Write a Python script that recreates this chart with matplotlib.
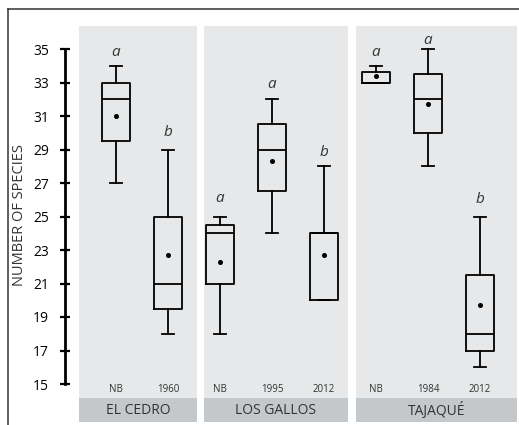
import matplotlib
matplotlib.use("Agg")
import matplotlib.pyplot as plt
from matplotlib.patches import Rectangle

plt.rcParams['font.family'] = ['Open Sans', 'DejaVu Sans']

# ------ data
sites = ["EL CEDRO", "LOS GALLOS", "TAJAQUÉ"]
groups = [["NB", "1960"], ["NB", "1995", "2012"], ["NB", "1984", "2012"]]

whis_lo = [27, 18, 18, 24, 20, 33, 28, 16]
q1 = [29.5, 19.5, 21, 26.5, 20, 33, 30, 17]
median = [32, 21, 24, 29, 24, 33, 32, 18]
q3 = [33, 25, 24.5, 30.5, 24, 33.6, 33.5, 21.5]
whis_hi = [34, 29, 25, 32, 28, 34, 35, 25]
means = [31, 22.7, 22.3, 28.3, 22.7, 33.4, 31.7, 19.7]

letters = ["a", "b", "a", "a", "b", "a", "a", "b"]
letter_y = [34.8, 30.0, 26.1, 32.9, 28.8, 34.8, 35.5, 26.0]

y_ticks = [15, 17, 19, 21, 23, 25, 27, 29, 31, 33, 35]

# panel extents (in box-index units)
panel_left = [-0.71, 1.69, 4.62]
panel_right = [1.56, 4.46, 7.71]

panel_col = '#e6e8e9'
band_col = '#c5c8ca'
txt_col = '#333333'

W, H = 519, 425
fig = plt.figure(figsize=(W / 100, H / 100), dpi=100)

# outer frame (top + left only)
bg = fig.add_axes([8 / W, 0, 1 - 8 / W, 1 - 9 / H])
bg.set_xticks([])
bg.set_yticks([])
for s in ['right', 'bottom']:
    bg.spines[s].set_visible(False)
for s in ['top', 'left']:
    bg.spines[s].set_color('#333333')
    bg.spines[s].set_linewidth(1.1)
bg.patch.set_alpha(0)

ax = fig.add_axes([0, 0, 1, 1])
ax.patch.set_alpha(0)
ax.set_xlim((0 - 116) / 52, (W - 116) / 52)
ax.set_ylim(15 - (H - 384) / 16.75, 35 + 49 / 16.75)

y_top = 35 + (49 - 26) / 16.75
y_band = 15 - (398 - 384) / 16.75
y_bot = 15 - (422 - 384) / 16.75

for i, name in enumerate(sites):
    l, r = panel_left[i], panel_right[i]
    ax.add_patch(Rectangle((l, y_band), r - l, y_top - y_band,
                           facecolor=panel_col, edgecolor='none', zorder=0))
    ax.add_patch(Rectangle((l, y_bot), r - l, y_band - y_bot,
                           facecolor=band_col, edgecolor='none', zorder=0))
    ax.text((l + r) / 2, (y_band + y_bot) / 2, name, ha='center', va='center',
            fontsize=10, color=txt_col)

labels = [g for grp in groups for g in grp]
stats = []
for k in range(len(labels)):
    stats.append(dict(whislo=whis_lo[k], q1=q1[k], med=median[k], q3=q3[k],
                      whishi=whis_hi[k], mean=means[k], fliers=[], label=labels[k]))

pos = list(range(len(labels)))
ax.bxp(stats, positions=pos, widths=0.52, showmeans=True, showfliers=False,
       boxprops=dict(color='black', linewidth=1.3),
       medianprops=dict(color='black', linewidth=1.3),
       whiskerprops=dict(color='black', linewidth=1.3),
       capprops=dict(color='black', linewidth=1.3),
       meanprops=dict(marker='o', markersize=2.6, markerfacecolor='black',
                      markeredgecolor='black'),
       capwidths=0.22, manage_ticks=False, zorder=3)

for k in pos:
    ax.text(k, 15 - 6 / 16.75, labels[k], ha='center', va='center',
            fontsize=7, color=txt_col)
    ax.text(k, letter_y[k], letters[k], ha='center', va='center',
            fontsize=11, style='italic', color=txt_col)

# y axis
ax.set_xticks([])
ax.set_yticks(y_ticks)
ax.set_yticklabels([str(t) for t in y_ticks], fontsize=7, color=txt_col)
for s in ['top', 'right', 'bottom']:
    ax.spines[s].set_visible(False)
ax.spines['left'].set_position(('data', (65 - 116) / 52))
ax.spines['left'].set_bounds(15, 35)
ax.spines['left'].set_linewidth(2.0)
ax.tick_params(axis='y', direction='inout', length=7, width=1.6, pad=8)
ax.set_ylabel("NUMBER OF SPECIES", fontsize=10.5, color=txt_col)
ax.yaxis.set_label_coords(27 / W, (H - 215) / H)

fig.savefig("out.png", dpi=100)
